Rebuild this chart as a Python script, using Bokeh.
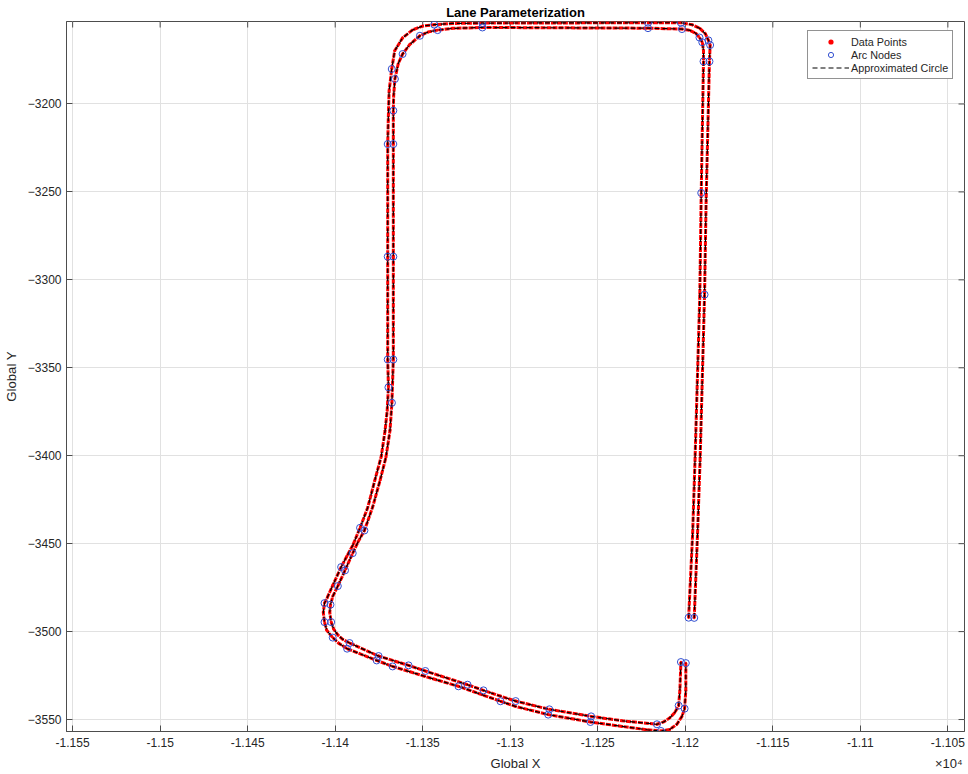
from bokeh.plotting import figure
from bokeh.models import Range1d, FixedTicker, LinearAxis, Legend, LegendItem
from bokeh.embed import file_html
from bokeh.resources import INLINE

# Outer lane boundary (global coordinates)
outer_x = [-11194.9, -11193.0, -11191.5, -11189.0, -11188.1, -11186.2, -11185.8, -11186.8,
           -11188.5, -11191.7, -11196.2, -11202.5, -11221.3, -11315.9, -11333.0, -11343.4,
           -11350.1, -11355.8, -11361.5, -11366.0, -11367.7, -11369.2, -11369.7, -11370.0,
           -11370.0, -11370.0, -11369.6, -11370.3, -11371.5, -11373.7, -11377.4, -11381.4,
           -11385.8, -11390.0, -11393.1, -11396.6, -11401.4, -11404.5, -11406.1, -11406.8,
           -11406.1, -11404.8, -11401.4, -11397.9, -11393.2, -11376.3, -11367.2, -11348.9,
           -11329.6, -11315.3, -11305.6, -11297.1, -11278.3, -11254.2, -11236.1, -11221.9,
           -11213.9, -11208.8, -11204.8, -11201.9, -11200.4, -11199.7, -11199.7]
outer_y = [-3492.2, -3444.2, -3401.0, -3308.4, -3255.0, -3175.8, -3166.5, -3163.8,
           -3160.1, -3157.0, -3154.9, -3153.8, -3153.8, -3154.0, -3154.2, -3154.9,
           -3155.7, -3157.9, -3162.4, -3169.7, -3180.1, -3192.5, -3209.5, -3222.8,
           -3286.8, -3345.3, -3361.1, -3374.3, -3385.7, -3400.4, -3414.1, -3429.4,
           -3441.0, -3451.0, -3456.7, -3463.3, -3473.7, -3480.6, -3483.8, -3489.1,
           -3494.6, -3499.3, -3503.4, -3506.7, -3509.7, -3516.4, -3519.8, -3525.4,
           -3531.1, -3536.2, -3539.6, -3542.5, -3547.2, -3551.4, -3553.9, -3555.8,
           -3556.5, -3555.6, -3552.7, -3548.2, -3543.8, -3533.4, -3517.9]

# Inner lane boundary
inner_x = [-11198.1, -11195.8, -11194.4, -11191.7, -11190.9, -11189.6, -11189.6, -11190.3,
           -11191.9, -11194.0, -11197.4, -11201.9, -11221.3, -11315.9, -11333.0, -11341.5,
           -11346.7, -11351.6, -11357.5, -11361.5, -11364.0, -11365.9, -11366.6, -11366.8,
           -11366.8, -11366.8, -11366.8, -11367.6, -11368.7, -11371.0, -11374.4, -11378.6,
           -11383.3, -11387.1, -11390.0, -11394.4, -11398.5, -11401.4, -11402.7, -11403.1,
           -11402.3, -11400.8, -11398.5, -11395.7, -11391.8, -11375.2, -11358.1, -11348.5,
           -11324.4, -11315.3, -11306.2, -11296.9, -11277.7, -11253.8, -11236.1, -11216.2,
           -11212.2, -11208.8, -11205.9, -11203.8, -11203.1, -11202.5]
inner_y = [-3492.1, -3444.2, -3401.0, -3308.4, -3250.6, -3175.8, -3169.7, -3164.9,
           -3162.2, -3159.8, -3158.1, -3157.4, -3156.9, -3156.5, -3157.0, -3158.0,
           -3159.0, -3161.2, -3166.3, -3171.6, -3177.1, -3185.8, -3195.3, -3203.8,
           -3222.8, -3286.8, -3345.3, -3369.9, -3385.7, -3400.8, -3414.1, -3429.2,
           -3442.5, -3449.3, -3455.4, -3465.2, -3474.1, -3480.0, -3484.7, -3489.1,
           -3494.6, -3498.7, -3501.9, -3504.4, -3506.5, -3513.9, -3519.2, -3522.4,
           -3530.2, -3533.4, -3536.5, -3539.5, -3544.2, -3548.2, -3550.7, -3552.7,
           -3551.3, -3549.0, -3545.9, -3542.1, -3533.4, -3517.3]

# Arc nodes on each boundary
outer_node_x = [-11194.9, -11189.0, -11186.2, -11185.8, -11186.8, -11202.5, -11221.3, -11315.9,
                -11343.4, -11367.7, -11370.0, -11370.0, -11370.0, -11369.6, -11385.8, -11396.6,
                -11406.1, -11406.1, -11401.4, -11393.2, -11376.3, -11367.2, -11329.6, -11305.6,
                -11278.3, -11254.2, -11213.9, -11200.4, -11199.7]
outer_node_y = [-3492.2, -3308.4, -3175.8, -3166.5, -3163.8, -3153.8, -3153.8, -3154.0,
                -3154.9, -3180.1, -3222.8, -3286.8, -3345.3, -3361.1, -3441.0, -3463.3,
                -3483.8, -3494.6, -3503.4, -3509.7, -3516.4, -3519.8, -3531.1, -3539.6,
                -3547.2, -3551.4, -3556.5, -3543.8, -3517.9]
inner_node_x = [-11198.1, -11190.9, -11189.6, -11190.3, -11191.9, -11201.9, -11221.3, -11315.9,
                -11341.5, -11351.6, -11361.5, -11365.9, -11366.8, -11366.8, -11366.8, -11366.8,
                -11367.6, -11383.3, -11390.0, -11394.4, -11398.5, -11402.7, -11402.3, -11391.8,
                -11375.2, -11358.1, -11348.5, -11324.4, -11315.3, -11296.9, -11277.7, -11253.8,
                -11216.2, -11203.8, -11202.5]
inner_node_y = [-3492.1, -3250.6, -3175.8, -3164.9, -3162.2, -3157.4, -3156.9, -3156.5,
                -3158.0, -3161.2, -3171.6, -3185.8, -3203.8, -3222.8, -3286.8, -3345.3,
                -3369.9, -3442.5, -3455.4, -3465.2, -3474.1, -3484.7, -3494.6, -3506.5,
                -3513.9, -3519.2, -3522.4, -3530.2, -3533.4, -3539.5, -3544.2, -3548.2,
                -3552.7, -3542.1, -3517.3]

x_ticks = [-11550, -11500, -11450, -11400, -11350, -11300, -11250, -11200, -11150, -11100, -11050]
x_tick_labels = ["-1.155", "-1.15", "-1.145", "-1.14", "-1.135", "-1.13", "-1.125",
                 "-1.12", "-1.115", "-1.11", "-1.105"]
y_ticks = [-3550, -3500, -3450, -3400, -3350, -3300, -3250, -3200]

X_LO, X_HI = -11553.5, -11040.5
Y_LO, Y_HI = -3556.8, -3153.1

FONT = "Liberation Sans"
AXIS_COLOR = "#4d4d4d"
TEXT_COLOR = "#262626"

p = figure(width=968, height=774, output_backend="svg", toolbar_location=None,
           x_range=Range1d(X_LO, X_HI), y_range=Range1d(Y_LO, Y_HI),
           min_border_left=63, min_border_right=4, min_border_top=21, min_border_bottom=43,
           background_fill_color="white", border_fill_color="white")

p.title.text = "Lane Parameterization"
p.title.align = "center"
p.title.text_font = FONT
p.title.text_font_size = "13px"
p.title.text_font_style = "bold"
p.title.text_color = "black"
p.title.standoff = 4

p.outline_line_color = AXIS_COLOR
p.outline_line_width = 1

xt = FixedTicker(ticks=x_ticks)
yt = FixedTicker(ticks=y_ticks)
xax = p.xaxis[0]
yax = p.yaxis[0]
xax.ticker = xt
yax.ticker = yt
p.xgrid.ticker = xt
p.ygrid.ticker = yt
xax.major_label_overrides = {t: s for t, s in zip(x_ticks, x_tick_labels)}
p.grid.grid_line_color = "#e1e1e1"
p.grid.grid_line_width = 1

for ax in (xax, yax):
    ax.major_tick_in = 6
    ax.major_tick_out = 0
    ax.minor_tick_line_color = None
    ax.axis_line_color = AXIS_COLOR
    ax.major_tick_line_color = AXIS_COLOR
    ax.major_label_text_font = FONT
    ax.major_label_text_font_size = "12px"
    ax.major_label_text_color = TEXT_COLOR
    ax.axis_label_text_font = FONT
    ax.axis_label_text_font_size = "13.2px"
    ax.axis_label_text_font_style = "normal"
    ax.axis_label_text_color = TEXT_COLOR

yax.axis_label = "Global Y"
xax.major_label_standoff = 6
yax.major_label_standoff = 5
yax.axis_label_standoff = 6

# second row under the x axis: axis title in the middle, exponent at the right end
x_title_pos = (X_LO + X_HI) / 2
x_exp_pos = X_HI - 9
title_row = LinearAxis(ticker=FixedTicker(ticks=[x_title_pos, x_exp_pos]),
                       major_label_overrides={x_title_pos: "Global X", x_exp_pos: "\u00d710\u2074"},
                       major_tick_line_color=None, minor_tick_line_color=None,
                       axis_line_color=None, major_label_standoff=0,
                       major_label_text_font=FONT, major_label_text_font_size="13px",
                       major_label_text_color=TEXT_COLOR)
p.add_layout(title_row, "below")

# inward ticks along the top and right edges of the box
tick_dx = (X_HI - X_LO) * 6 / 901
tick_dy = (Y_HI - Y_LO) * 6 / 710
p.segment(x0=x_ticks, y0=[Y_HI] * len(x_ticks), x1=x_ticks, y1=[Y_HI - tick_dy] * len(x_ticks),
          line_color=AXIS_COLOR, line_width=1)
p.segment(x0=[X_HI] * len(y_ticks), y0=y_ticks, x1=[X_HI - tick_dx] * len(y_ticks), y1=y_ticks,
          line_color=AXIS_COLOR, line_width=1)

# densely sampled data points along both boundaries
for xs, ys in ((outer_x, outer_y), (inner_x, inner_y)):
    p.line(xs, ys, line_color="#ff0000", line_width=3, line_dash="5 1")
dots = [p.scatter(xs, ys, marker="circle", size=2.5, fill_color="#ff0000", line_color=None)
        for xs, ys in ((outer_x, outer_y), (inner_x, inner_y))]

# fitted circular arcs
arcs = [p.line(xs, ys, line_color="black", line_width=1.2, line_dash="5 3")
        for xs, ys in ((outer_x, outer_y), (inner_x, inner_y))]

# arc nodes
nodes = [p.scatter(xs, ys, marker="circle", size=7, fill_color=None,
                   line_color="#3350d0", line_width=1)
         for xs, ys in ((outer_node_x, outer_node_y), (inner_node_x, inner_node_y))]

legend = Legend(items=[LegendItem(label="Data Points", renderers=[dots[0]]),
                       LegendItem(label="Arc Nodes", renderers=[nodes[0]]),
                       LegendItem(label="Approximated Circle", renderers=[arcs[0]])],
                location=(741, 652), margin=0, padding=4, spacing=0,
                glyph_width=37, glyph_height=13, label_height=13, label_standoff=2,
                label_text_font=FONT, label_text_font_size="10.8px",
                label_text_color=TEXT_COLOR,
                border_line_color=TEXT_COLOR, border_line_width=1,
                background_fill_color="white", background_fill_alpha=1)
p.add_layout(legend)

open("out.html", "w").write(file_html(p, INLINE))
